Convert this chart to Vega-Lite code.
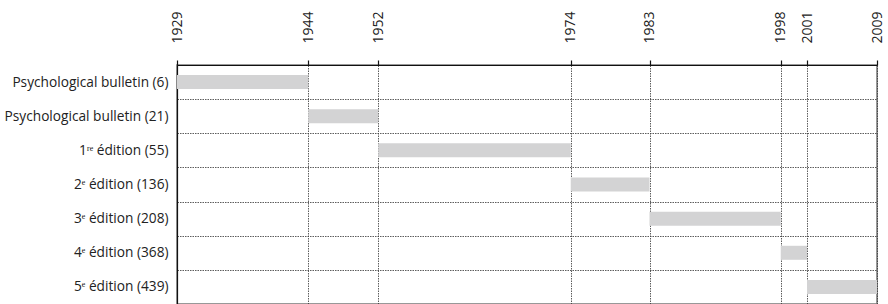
{
  "$schema": "https://vega.github.io/schema/vega-lite/v6.json",
  "autosize": {"type": "none"},
  "padding": {"left": 177, "top": 65, "right": 11, "bottom": 0},
  "width": 700,
  "height": 239,
  "background": "white",
  "config": {
    "view": {"stroke": "#777", "strokeWidth": 1.5},
    "font": "Open Sans"
  },
  "data": {
    "values": [
      {"label": "Psychological bulletin (6)", "start": 1929, "end": 1944},
      {"label": "Psychological bulletin (21)", "start": 1944, "end": 1952},
      {"label": "1ʳᵉ édition (55)", "start": 1952, "end": 1974},
      {"label": "2ᵉ édition (136)", "start": 1974, "end": 1983},
      {"label": "3ᵉ édition (208)", "start": 1983, "end": 1998},
      {"label": "4ᵉ édition (368)", "start": 1998, "end": 2001},
      {"label": "5ᵉ édition (439)", "start": 2001, "end": 2009}
    ]
  },
  "mark": {"type": "bar", "color": "#d3d3d4", "height": {"band": 0.41}},
  "encoding": {
    "y": {
      "field": "label",
      "type": "nominal",
      "sort": null,
      "title": null,
      "scale": {"paddingInner": 0, "paddingOuter": 0},
      "axis": {
        "domain": true,
        "domainColor": "#111",
        "domainWidth": 1.2,
        "ticks": false,
        "tickBand": "extent",
        "grid": true,
        "gridColor": "#333",
        "gridDash": [1.5, 1],
        "gridWidth": 0.8,
        "labelFont": "Open Sans",
        "labelFontSize": 13.7,
        "labelColor": "#222",
        "labelPadding": 9
      }
    },
    "x": {
      "field": "start",
      "type": "quantitative",
      "title": null,
      "scale": {"domain": [1929, 2009], "nice": false, "zero": false},
      "axis": {
        "orient": "top",
        "values": [1929, 1944, 1952, 1974, 1983, 1998, 2001, 2009],
        "format": "d",
        "labelAngle": -90,
        "labelAlign": "left",
        "labelBaseline": "middle",
        "labelFont": "Open Sans",
        "labelFontSize": 14,
        "labelColor": "#222",
        "labelPadding": 17,
        "labelFlush": false,
        "labelOverlap": false,
        "domainColor": "#111",
        "domainWidth": 1.2,
        "tickColor": "#111",
        "tickSize": 5,
        "tickWidth": 1.2,
        "grid": true,
        "gridColor": "#333",
        "gridDash": [1.5, 1],
        "gridWidth": 0.8
      }
    },
    "x2": {"field": "end"}
  }
}
